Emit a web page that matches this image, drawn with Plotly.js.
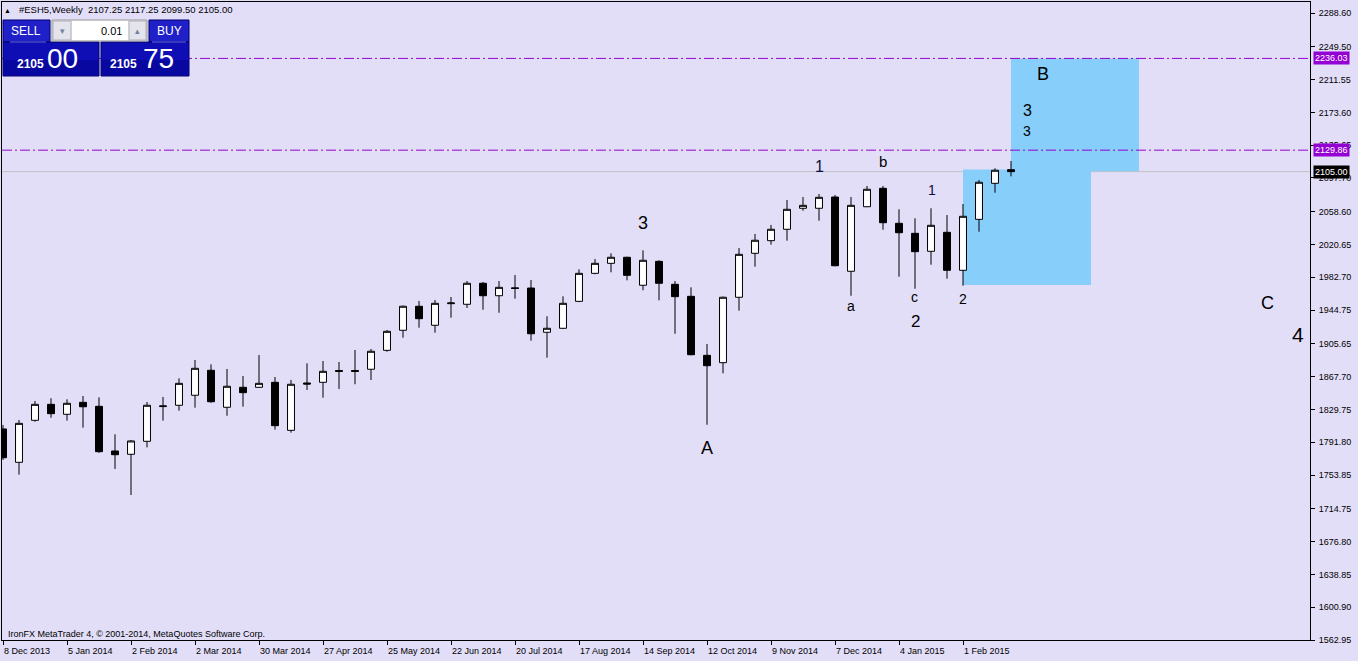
<!DOCTYPE html>
<html>
<head>
<meta charset="utf-8">
<script src="https://cdn.plot.ly/plotly-3.0.1.min.js"></script>
<style>
html,body{margin:0;padding:0;background:#E2DEF8;}
#chart{width:1358px;height:661px;}
</style>
</head>
<body>
<div id="chart"></div>
<script>
// ---- Data (weekly candles, #ESH5) ----
const opens  = [1807.2,1768.6,1817.2,1835.7,1824.2,1838.0,1833.4,1781.7,1777.9,1792.9,
                1833.1,1834.6,1846.2,1875.1,1832.3,1855.4,1855.4,1861.2,1805.6,1860.4,
                1861.2,1874.8,1874.8,1876.3,1898.2,1921.4,1949.2,1927.2,1952.2,1951.5,
                1975.8,1961.4,1970.5,1970.3,1919.1,1923.7,1954.9,1987.3,1998.9,2005.9,
                1973.5,2001.2,1974.6,1960.7,1892.4,1883.9,1959.6,2010.5,2025.1,2038.3,
                2062.6,2062.6,2075.6,1989.7,2064.4,2085.7,2045.2,2033.6,2012.8,2034.8,
                1990.8,2049.8,2091.5,2107.25];
const highs  = [1811.8,1817.6,1839.6,1842.7,1841.5,1845.3,1843.8,1801.0,1794.4,1838.4,
                1844.2,1865.8,1887.0,1882.0,1876.6,1868.5,1892.8,1867.3,1863.9,1883.2,
                1885.8,1884.7,1898.6,1899.7,1921.7,1950.0,1955.3,1956.5,1959.9,1978.4,
                1977.3,1978.4,1985.4,1979.6,1937.6,1960.7,1992.0,2003.9,2010.5,2006.5,
                2013.9,2002.4,1978.4,1971.1,1905.5,1960.5,2016.6,2032.9,2043.3,2072.2,
                2075.6,2079.1,2077.9,2075.6,2088.4,2088.4,2061.4,2051.0,2062.6,2054.8,
                2067.6,2095.3,2108.9,2117.25];
const lows   = [1771.3,1754.3,1815.6,1820.2,1816.8,1808.7,1779.5,1760.9,1730.8,1785.9,
                1816.8,1828.3,1831.8,1837.5,1822.5,1833.0,1855.0,1806.4,1802.9,1852.3,
                1843.4,1853.4,1858.9,1863.9,1896.6,1912.8,1924.4,1918.6,1936.0,1947.2,
                1945.2,1941.7,1957.9,1909.3,1889.7,1923.0,1954.0,1986.2,1988.5,1979.2,
                1967.7,1956.1,1917.4,1892.5,1812.1,1871.6,1944.1,1995.0,2020.5,2025.1,
                2059.8,2048.2,1995.5,1961.4,2064.0,2037.8,1983.4,1969.5,1997.3,1981.1,
                1973.0,2035.5,2080.6,2099.50];
const closes = [1773.9,1813.7,1835.7,1824.9,1836.9,1832.9,1780.9,1777.4,1793.3,1834.6,
                1833.8,1860.0,1877.4,1838.7,1856.6,1849.2,1860.0,1811.0,1858.9,1859.2,
                1873.9,1873.9,1873.9,1897.1,1920.2,1949.2,1934.8,1952.6,1953.0,1975.8,
                1961.4,1971.1,1969.8,1917.4,1923.7,1952.6,1987.3,1998.9,2005.9,1985.0,
                2002.4,1975.8,1960.3,1893.1,1880.4,1959.6,2009.3,2025.6,2038.3,2061.4,
                2066.0,2075.3,1996.1,2066.0,2084.6,2045.9,2034.3,2012.4,2042.9,1990.8,
                2053.3,2092.7,2106.6,2105.00];

// date axis labels (every 4 weeks) and the week index they sit on
const dateLabels = ["8 Dec 2013","5 Jan 2014","2 Feb 2014","2 Mar 2014","30 Mar 2014","27 Apr 2014",
                    "25 May 2014","22 Jun 2014","20 Jul 2014","17 Aug 2014","14 Sep 2014","12 Oct 2014",
                    "9 Nov 2014","7 Dec 2014","4 Jan 2015","1 Feb 2015"];
const dateLabelIdx = [0,4,8,12,16,20,24,28,32,36,40,44,48,52,56,60];

// price scale labels
const priceTicks = [2288.60,2249.50,2211.55,2173.60,2135.65,2097.70,2058.60,2020.65,1982.70,1944.75,
                    1905.65,1867.70,1829.75,1791.80,1753.85,1714.75,1676.80,1638.85,1600.90,1562.95];

// horizontal levels
const levelPrices = [2236.03, 2129.86];
const bidPrice = 2105.00;

// target boxes [x0,x1,y0,y1] in week index / price
const boxX0 = [60, 63];
const boxX1 = [68, 71];
const boxLow = [1973.8, 2105.5];
const boxHigh = [2107.6, 2236.03];

// wave labels
const waveText  = ["3","A","1","b","a","1","c","2","2","B","3","3","C","4"];
const waveX     = [40.0,44.0,51.0,55.0,53.0,58.06,56.94,57.0,60.0,65.0,64.0,64.0,79.0,80.94];
const waveY     = [2045.6,1785.2,2110.4,2117.3,1949.5,2083.7,1959.9,1931.0,1957.6,2218.0,2176.3,2152.0,1952.95,1917.1];
const waveSize  = [18,18,16,15,14,14,14,17,14,18,16,14,18,21];
const waveColor = ["#000","#000","#0c0c40","#000","#000","#0c0c40","#000","#000","#000","#000","#000","#000","#000","#000"];

// ---- Layout geometry ----
const W = 1358, H = 661;
const M = {l:2, r:48, t:2, b:21};
const plotW = W - M.l - M.r, plotH = H - M.t - M.b;
const px = x => (x - M.l) / plotW;         // pixel -> paper x
const py = y => (H - M.b - y) / plotH;     // pixel -> paper y

const idx = opens.map((_, i) => i);
const FONT = "Liberation Sans, Arial, sans-serif";
const BG = "#E2DEF8";

const traces = [{
  type: "candlestick",
  x: idx, open: opens, high: highs, low: lows, close: closes,
  increasing: {line: {color: "#000", width: 1}, fillcolor: "#ffffff"},
  decreasing: {line: {color: "#000", width: 1}, fillcolor: "#000000"},
  whiskerwidth: 0,
  hoverinfo: "skip",
  showlegend: false
}];

const shapes = [];
// target boxes
for (let k = 0; k < boxX0.length; k++) {
  shapes.push({type: "rect", xref: "x", yref: "y", x0: boxX0[k], x1: boxX1[k], y0: boxLow[k], y1: boxHigh[k],
               fillcolor: "#87CEFA", line: {width: 0}, layer: "below"});
}
// bid line
shapes.push({type: "line", xref: "paper", yref: "y", x0: 0, x1: 1, y0: bidPrice, y1: bidPrice,
             line: {color: "#C0C0C0", width: 1}, layer: "below"});
// purple levels
levelPrices.forEach(p => shapes.push({type: "line", xref: "paper", yref: "y", x0: 0, x1: 1, y0: p, y1: p,
             line: {color: "#9400D3", width: 1, dash: "10px,3px,2px,3px"}, layer: "above"}));

// ---- trade panel (decoration) ----
function prect(x0, y0, x1, y1, fill, lineColor, lw) {
  shapes.push({type: "rect", xref: "paper", yref: "paper", x0: px(x0), x1: px(x1), y0: py(y1), y1: py(y0),
               fillcolor: fill, line: {color: lineColor || fill, width: lw === undefined ? 0 : lw}, layer: "above"});
}
// SELL
prect(3, 20, 50, 42, "#2020C8", "#00006a", 1);
prect(3, 42, 99, 76, "#0E0EB4", "#00006a", 1);
prect(4, 60, 98, 75, "#0808A0");
prect(10, 41.5, 46, 42.5, "#6A6AF0");
// BUY
prect(149, 20, 189, 42, "#2020C8", "#00006a", 1);
prect(101, 42, 189, 76, "#0E0EB4", "#00006a", 1);
prect(102, 60, 188, 75, "#0808A0");
prect(152, 41.5, 186, 42.5, "#6A6AF0");
// spinner
prect(52, 20, 147, 41, "#F0F0F0", "#9a9a9a", 1);
prect(72, 21, 128, 40, "#FFFFFF");
prect(53, 21, 71, 40, "#E4E4EC", "#b0b0b8", 1);
prect(129, 21, 146, 40, "#E4E4EC", "#b0b0b8", 1);

const annotations = [];
function ptext(x, y, text, size, color, anchor, bold) {
  annotations.push({xref: "paper", yref: "paper", x: px(x), y: py(y), text: bold ? "<b>" + text + "</b>" : text,
                    showarrow: false, xanchor: anchor || "center", yanchor: "middle",
                    font: {family: FONT, size: size, color: color}});
}
ptext(26, 31, "SELL", 12, "#ffffff");
ptext(169, 31, "BUY", 12, "#ffffff");
ptext(124, 31, "0.01", 11, "#000000", "right");
ptext(62, 31, "▾", 9, "#7080a0");
ptext(137.5, 31, "▴", 9, "#7080a0");
ptext(30, 64, "2105", 12, "#ffffff", "center", true);
ptext(62, 59, "00", 28, "#ffffff");
ptext(123, 64, "2105", 12, "#ffffff", "center", true);
ptext(158, 59, "75", 28, "#ffffff");

// header & footer
ptext(7.5, 10.5, "▲", 7, "#000000");
ptext(17, 10, "#ESH5,Weekly  2107.25 2117.25 2099.50 2105.00", 9.5, "#000000", "left");
ptext(6, 634, "IronFX MetaTrader 4, © 2001-2014, MetaQuotes Software Corp.", 9, "#000000", "left");

// wave labels
for (let k = 0; k < waveText.length; k++) {
  annotations.push({xref: "x", yref: "y", x: waveX[k], y: waveY[k], text: waveText[k], showarrow: false,
                    xanchor: "center", yanchor: "middle",
                    font: {family: FONT, size: waveSize[k], color: waveColor[k]}});
}

// date labels, left aligned at their ticks
for (let k = 0; k < dateLabels.length; k++) {
  annotations.push({xref: "x", yref: "paper", x: dateLabelIdx[k], y: 0, text: dateLabels[k], showarrow: false,
                    xanchor: "left", yanchor: "top", xshift: -1, yshift: -4,
                    font: {family: FONT, size: 9, color: "#000"}});
}

// price boxes on the scale
function priceBox(p, bg) {
  annotations.push({xref: "paper", yref: "y", x: 1, y: p, text: p.toFixed(2), showarrow: false,
                    xanchor: "left", yanchor: "middle", xshift: 3, bgcolor: bg, borderpad: 1,
                    font: {family: FONT, size: 9, color: "#ffffff"}});
}
levelPrices.forEach(p => priceBox(p, "#9400D3"));
priceBox(bidPrice, "#000000");

const layout = {
  width: W, height: H,
  margin: M,
  paper_bgcolor: BG, plot_bgcolor: BG,
  showlegend: false,
  hovermode: false,
  boxgap: 0.38,
  font: {family: FONT, size: 9, color: "#000"},
  xaxis: {
    type: "linear", range: [-0.0625, 81.6875], fixedrange: true,
    showgrid: false, zeroline: false,
    showline: true, mirror: true, linecolor: "#000", linewidth: 1,
    tickmode: "array", tickvals: dateLabelIdx, ticktext: dateLabels, showticklabels: false,
    ticks: "outside", ticklen: 4, tickcolor: "#000", tickwidth: 1,
    rangeslider: {visible: false}
  },
  yaxis: {
    side: "right", range: [1562.95, 2301.33], fixedrange: true,
    showgrid: false, zeroline: false,
    showline: true, mirror: true, linecolor: "#000", linewidth: 1,
    tickmode: "array", tickvals: priceTicks, ticktext: priceTicks.map(v => v.toFixed(2)),
    ticks: "outside", ticklen: 4, tickcolor: "#000", tickwidth: 1, ticklabelstandoff: 2,
    tickfont: {family: FONT, size: 9, color: "#000"}
  },
  shapes: shapes,
  annotations: annotations
};

Plotly.newPlot("chart", traces, layout, {staticPlot: true, displayModeBar: false});
</script>
</body>
</html>
